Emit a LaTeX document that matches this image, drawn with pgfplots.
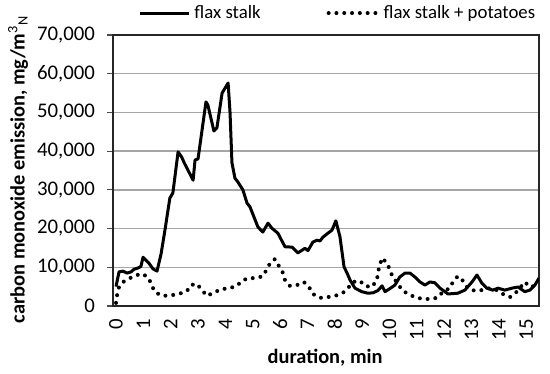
\documentclass[border=0pt]{standalone}
\usepackage{fontspec}
\setmainfont{Carlito}
\usepackage{pgfplots}
\pgfplotsset{compat=1.18}
\begin{document}
\begin{tikzpicture}
\begin{axis}[
  scale only axis, width=213pt, height=135.5pt,
  xmin=-0.11, xmax=15.47, ymin=0, ymax=70000,
  xtick={0,1,...,15}, ytick={0,10000,...,70000},
  scaled y ticks=false,
  /pgf/number format/assume math mode=true,
  /pgf/number format/1000 sep={,},
  tick label style={font=\fontsize{10.4}{12}\selectfont},
  xticklabel style={rotate=90, anchor=east},
  yticklabel style={xshift=-2.5pt},
  xtick style={draw=none},
  ytick pos=left, tick align=outside, major tick length=3pt,
  ytick style={black!70, line width=0.6pt},
  ymajorgrids, grid style={black!35, line width=0.7pt},
  axis line style={black!85, line width=0.8pt},
  xlabel={duration, min}, ylabel={carbon monoxide emission, mg/m$^{\mathrm{3}}{}_{\mathrm{N}}$},
  label style={font=\bfseries\fontsize{10.2}{12}\selectfont},
  xlabel style={at={(axis description cs:0.498,-0.192)}, anchor=center},
  ylabel style={at={(axis description cs:-0.223,0.505)}, anchor=center},
  legend style={at={(axis description cs:0.53,1.081)}, anchor=center, draw=none, fill=none,
    font=\fontsize{9.4}{11}\selectfont, legend columns=2,
    /tikz/every even column/.append style={column sep=31pt}},
  legend image code/.code={\draw[#1] (0pt,0pt) -- (24.5pt,0pt);},
]
\addplot[black, line width=1.5pt, line join=round] coordinates {
(0,5000) (0.11,8800) (0.26,9000) (0.40,8500) (0.55,8800) (0.66,9500) (0.80,9800) (0.91,10200)
(0.99,12600) (1.21,11000) (1.35,9600) (1.50,9000) (1.65,13500) (1.79,19600) (1.97,27900) (2.08,29200)
(2.27,39800) (2.40,38500) (2.50,36900) (2.82,32500) (2.89,37700) (3.00,38000) (3.29,52700) (3.36,51900)
(3.58,45200) (3.69,46000) (3.88,55000) (4.10,57600) (4.17,50000) (4.24,37000) (4.35,33000) (4.46,32000)
(4.64,30000) (4.79,26600) (4.90,25600) (5.19,20400) (5.37,19100) (5.56,21400) (5.70,20100) (5.92,18800)
(6.18,15300) (6.44,15200) (6.65,13700) (6.91,14900) (7.02,14300) (7.20,16500) (7.35,17000) (7.46,16800)
(7.57,17800) (7.75,18800) (7.90,19600) (8.04,22000) (8.19,17900) (8.34,10100) (8.45,8500) (8.56,6700)
(8.74,4600) (8.99,3700) (9.21,3300) (9.40,3400) (9.58,4000) (9.73,5200) (9.84,3700) (10.02,4500)
(10.20,5400) (10.38,7500) (10.57,8500) (10.75,8500) (10.93,7500) (11.12,6200) (11.30,5400) (11.48,6200)
(11.66,6000) (11.85,4600) (12.03,3700) (12.14,3100) (12.50,3300) (12.76,4100) (13.02,6200) (13.20,8000)
(13.38,5900) (13.56,4600) (13.78,4100) (13.97,4600) (14.22,4100) (14.48,4600) (14.70,4900) (14.95,3700)
(15.14,4100) (15.32,5400) (15.47,7200)
};
\addlegendentry{flax stalk}
\addplot[black, line width=2pt, line cap=round, dash pattern=on 0pt off 3.9pt] coordinates {
(0,800) (0.04,2800) (0.11,4900) (0.26,6200) (0.51,7200) (0.77,8000) (0.99,8300) (1.21,7000)
(1.32,5000) (1.46,3400) (1.72,2600) (2.05,2800) (2.30,3100) (2.60,3900) (2.74,5400) (2.96,5700)
(3.14,4100) (3.33,2600) (3.55,3400) (3.88,4400) (4.10,4500) (4.42,5200) (4.61,6500) (4.83,7200)
(5.12,7200) (5.37,7700) (5.52,9500) (5.63,11000) (5.81,12100) (5.96,10300) (6.11,8500) (6.18,6700)
(6.36,5200) (6.62,5400) (6.87,6200) (7.06,4900) (7.20,3100) (7.46,2100) (7.75,2300) (8.01,2600)
(8.30,3400) (8.48,4600) (8.67,6200) (8.92,6500) (9.10,5200) (9.36,4900) (9.54,6700) (9.62,10000)
(9.73,12400) (9.91,11100) (10.02,9300) (10.13,7200) (10.27,6200) (10.46,4100) (10.68,3100) (10.93,2300)
(11.22,1800) (11.55,1800) (11.77,2200) (11.96,3700) (12.21,4600) (12.32,6200) (12.50,7700) (12.69,6500)
(12.87,4600) (13.13,3900) (13.38,4100) (13.60,4600) (13.93,4100) (14.15,3100) (14.41,2300) (14.66,3700)
(14.95,6200) (15.14,4900) (15.32,5200)
};
\addlegendentry{flax stalk + potatoes}
\coordinate (bl) at (rel axis cs:0,0);
\coordinate (tr) at (rel axis cs:1,1);
\end{axis}
\pgfresetboundingbox
\path ([xshift=-56.5pt,yshift=-34pt]bl) rectangle ([xshift=5.5pt,yshift=17.5pt]tr);
\end{tikzpicture}
\end{document}
